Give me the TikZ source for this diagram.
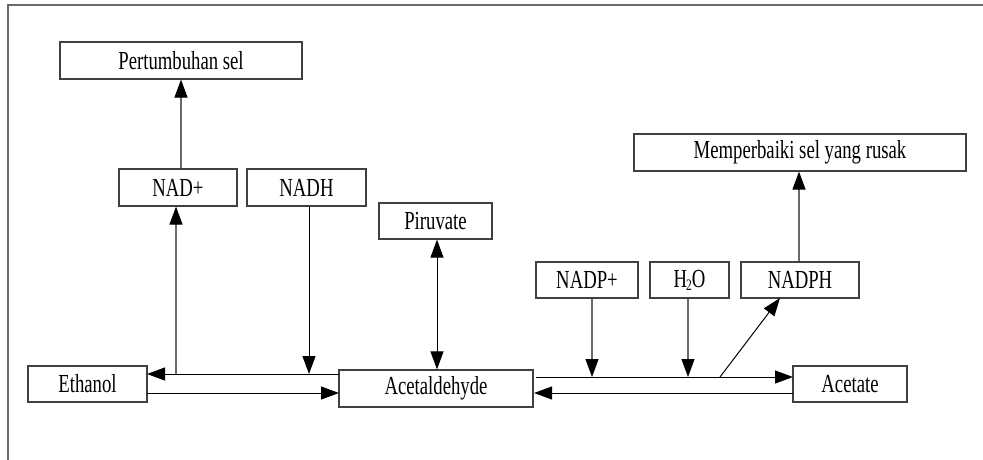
\documentclass[tikz,border=0pt]{standalone}
\usepackage{fontspec}
\setmainfont[FakeStretch=0.72]{Liberation Serif}
\usetikzlibrary{arrows.meta}
\definecolor{boxline}{HTML}{404040}
\definecolor{lgray}{HTML}{6A6A6A}
\tikzset{
  box/.style={draw=boxline, line width=1.2pt, inner sep=0pt, minimum height=37pt,
    font=\fontsize{26}{26}\selectfont, text=black},
  tipa/.tip={Triangle[length=18pt,width=13pt,color=black,fill=black]},
  arr/.style={-tipa, line width=1pt, draw=black},
  garr/.style={-tipa, line width=1.2pt, draw=lgray},
}
\begin{document}
\begin{tikzpicture}[x=1pt,y=-1pt]
\useasboundingbox (0,0) rectangle (983,459);
\draw[line width=1.3pt, draw=lgray] (8,5) rectangle (995,470);
% boxes
\node[box, minimum width=242pt] (pert) at (181,60.5) {Pertumbuhan sel};
\node[box, minimum width=118pt] (nadp) at (178,187.5) {NAD+};
\node[box, minimum width=119pt] (nadh) at (306.5,187.5) {NADH};
\node[box, minimum width=113pt, minimum height=36pt] (piru) at (435.5,221) {Piruvate};
\node[box, minimum width=119pt, minimum height=36pt] (eth) at (87.5,384) {Ethanol};
\node[box, minimum width=194pt] (acet) at (436,388.5) {Acetaldehyde};
\node[box, minimum width=332pt] (mem) at (800,152.5) {Memperbaiki sel yang rusak};
\node[box, minimum width=102pt, minimum height=36pt] (nadpp) at (587,280) {NADP+};
\node[box, minimum width=79pt, minimum height=36pt] (h2o) at (689.5,280) {H\kern-1pt\raisebox{-0.25ex}{\fontsize{16}{16}\selectfont 2}O};
\node[box, minimum width=118pt, minimum height=36pt] (nadph) at (800,280) {NADPH};
\node[box, minimum width=114pt, minimum height=36pt] (acetate) at (850,384) {Acetate};
% junction coordinates
\coordinate (ulA) at (339,374);
\coordinate (ulE) at (147,374);
\coordinate (llE) at (147,393);
\coordinate (llA) at (339,393);
\coordinate (jnad) at (176,374);
\coordinate (jnadh) at (309,374);
\coordinate (urA) at (536,377);
\coordinate (urT) at (793,377);
\coordinate (lrT) at (793,393);
\coordinate (lrA) at (534,393);
\coordinate (jnadpp) at (592,377);
\coordinate (jh2o) at (688,377);
\coordinate (jdiag) at (720,377);
\coordinate (nadphB) at (780,298);
% left connectors
\draw[arr] (ulA) -- (ulE);
\draw[arr] (llE) -- (llA);
\draw[garr] (jnad) -- (jnad |- nadp.south);
\draw[garr] (pert.south |- nadp.north) -- (pert.south);
\draw[arr] (nadh.south -| jnadh) -- (jnadh);
\draw[{tipa}-{tipa}, line width=1pt] (piru.south -| 437,0) -- (acet.north -| 437,0);
% right connectors
\draw[arr] (urA) -- (urT);
\draw[arr] (lrT) -- (lrA);
\draw[garr] (nadpp.south -| jnadpp) -- (jnadpp);
\draw[garr] (h2o.south -| jh2o) -- (jh2o);
\draw[arr] (jdiag) -- (nadphB);
\draw[garr] (nadph.north -| 799,0) -- (mem.south -| 799,0);
\end{tikzpicture}
\end{document}
